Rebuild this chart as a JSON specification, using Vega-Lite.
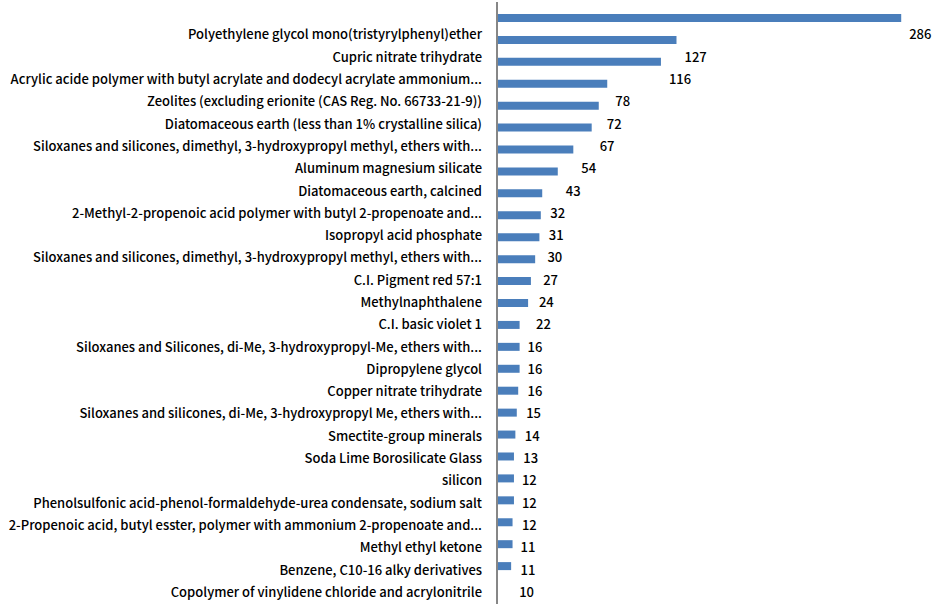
{
  "$schema": "https://vega.github.io/schema/vega-lite/v6.json",
  "width": 424,
  "height": 602,
  "autosize": {"type": "none"},
  "padding": {"left": 497, "top": 2, "right": 15, "bottom": 5},
  "background": "white",
  "config": {"view": {"stroke": null}},
  "data": {"values": [
    {"rank": 1, "name": "Polyethylene glycol mono(tristyrylphenyl)ether", "value": 286},
    {"rank": 2, "name": "Cupric nitrate trihydrate", "value": 127},
    {"rank": 3, "name": "Acrylic acide polymer with butyl acrylate and dodecyl acrylate ammonium...", "value": 116},
    {"rank": 4, "name": "Zeolites (excluding erionite (CAS Reg. No. 66733-21-9))", "value": 78},
    {"rank": 5, "name": "Diatomaceous earth (less than 1% crystalline silica)", "value": 72},
    {"rank": 6, "name": "Siloxanes and silicones, dimethyl, 3-hydroxypropyl methyl, ethers with...", "value": 67},
    {"rank": 7, "name": "Aluminum magnesium silicate", "value": 54},
    {"rank": 8, "name": "Diatomaceous earth, calcined", "value": 43},
    {"rank": 9, "name": "2-Methyl-2-propenoic acid polymer with butyl 2-propenoate and...", "value": 32},
    {"rank": 10, "name": "Isopropyl acid phosphate", "value": 31},
    {"rank": 11, "name": "Siloxanes and silicones, dimethyl, 3-hydroxypropyl methyl, ethers with...", "value": 30},
    {"rank": 12, "name": "C.I. Pigment red 57:1", "value": 27},
    {"rank": 13, "name": "Methylnaphthalene", "value": 24},
    {"rank": 14, "name": "C.I. basic violet 1", "value": 22},
    {"rank": 15, "name": "Siloxanes and Silicones, di-Me, 3-hydroxypropyl-Me, ethers with...", "value": 16},
    {"rank": 16, "name": "Dipropylene glycol", "value": 16},
    {"rank": 17, "name": "Copper nitrate trihydrate", "value": 16},
    {"rank": 18, "name": "Siloxanes and silicones, di-Me, 3-hydroxypropyl Me, ethers with...", "value": 15},
    {"rank": 19, "name": "Smectite-group minerals", "value": 14},
    {"rank": 20, "name": "Soda Lime Borosilicate Glass", "value": 13},
    {"rank": 21, "name": "silicon", "value": 12},
    {"rank": 22, "name": "Phenolsulfonic acid-phenol-formaldehyde-urea condensate, sodium salt", "value": 12},
    {"rank": 23, "name": "2-Propenoic acid, butyl esster, polymer with ammonium 2-propenoate and...", "value": 12},
    {"rank": 24, "name": "Methyl ethyl ketone", "value": 11},
    {"rank": 25, "name": "Benzene, C10-16 alky derivatives", "value": 11},
    {"rank": 26, "name": "Copolymer of vinylidene chloride and acrylonitrile", "value": 10}
  ]},
  "layer": [
    {
      "mark": {"type": "bar", "orient": "horizontal", "color": "#4a7ebb", "size": 8},
      "encoding": {
        "x": {"field": "value", "type": "quantitative", "scale": {"domain": [0, 300], "nice": false}, "axis": null},
        "y": {"field": "rank", "type": "quantitative", "scale": {"domain": [0.5, 27.5], "nice": false, "zero": false, "reverse": true}, "axis": null}
      }
    },
    {
      "mark": {"type": "text", "align": "left", "baseline": "middle", "dx": 8, "font": "Noto Sans CJK KR", "fontSize": 13, "fontWeight": 500, "color": "black"},
      "encoding": {
        "x": {"field": "value", "type": "quantitative", "scale": {"domain": [0, 300], "nice": false}, "axis": null},
        "y": {"field": "rank", "type": "quantitative", "scale": {"domain": [-0.5, 26.5], "nice": false, "zero": false, "reverse": true}, "axis": null},
        "text": {"field": "value", "type": "quantitative"}
      }
    },
    {
      "mark": {"type": "text", "align": "right", "baseline": "middle", "dx": -15, "font": "Noto Sans CJK KR", "fontSize": 13, "fontWeight": 500, "color": "black"},
      "encoding": {
        "x": {"datum": 0, "type": "quantitative", "scale": {"domain": [0, 300], "nice": false}},
        "y": {"field": "rank", "type": "quantitative", "scale": {"domain": [-0.5, 26.5], "nice": false, "zero": false, "reverse": true}, "axis": null},
        "text": {"field": "name", "type": "nominal"}
      }
    },
    {
      "mark": {"type": "rule", "color": "#868686", "strokeWidth": 1},
      "encoding": {
        "x": {"datum": 0, "type": "quantitative"}
      }
    }
  ],
  "resolve": {"scale": {"y": "independent"}}
}
